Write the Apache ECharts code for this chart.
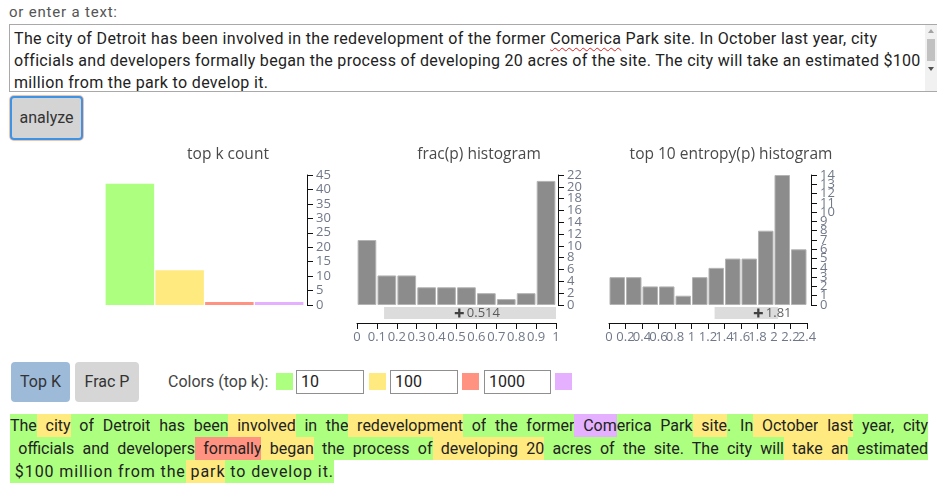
<!DOCTYPE html>
<html>
<head>
<meta charset="utf-8">
<script src="https://cdn.jsdelivr.net/npm/echarts@6/dist/echarts.min.js"></script>
<style>
  html, body { margin:0; padding:0; background:#fff; }
  body { width:937px; height:483px; position:relative; overflow:hidden; font-family: Roboto, "Open Sans", sans-serif; color:#222; }
  .abs { position:absolute; }
  #label { left:9px; top:3px; font-size:15px; color:#555; line-height:18px; white-space:nowrap; }
  #ta { left:9px; top:24px; width:940px; height:66px; border:1px solid #a9a9a9; background:#fff; }
  .taline { position:absolute; left:4px; font-size:16px; line-height:22px; white-space:nowrap; color:#222; }
  .spell { text-decoration: underline wavy #e02020; text-decoration-thickness:1px; text-underline-offset:3px; }
  #sb { right:0; top:25px; width:12px; height:66px; background:#f1f1f1; }
  #analyze { left:10px; top:96px; width:69px; height:40px; background:#d4d4d4; border:2px solid #3d94e6; border-radius:4px; box-shadow:0 0 0 1px #f3c0a8; font-size:16px; color:#333; text-align:center; line-height:40px; }
  #chart { left:0; top:140px; width:937px; height:215px; }
  .btn { top:362px; height:40px; border-radius:4px; font-size:16px; line-height:40px; text-align:center; color:#333; }
  #colorsLbl { left:168px; top:372px; font-size:16px; line-height:20px; color:#444; white-space:nowrap; }
  .sw { top:373px; width:17px; height:17px; }
  .inp { top:370px; border:1px solid #8f8f8f; background:#fff; font-size:16px; line-height:22px; padding-left:4px; box-sizing:border-box; height:24px; }
  #hl { left:10px; top:414px; width:918px; font-size:16px; }
  .hline { height:23px; line-height:23px; white-space:nowrap; }
  .just { text-align:justify; text-align-last:justify; white-space:normal; }
  .hline span { padding:2.3px 0; }
  .g { background:#ADFF80; } .y { background:#FFEA80; } .r { background:#FF9280; } .p { background:#E5B0FF; }
</style>
</head>
<body>
<div id="label" class="abs">or enter a text:</div>
<div id="ta" class="abs">
  <div class="taline" id="t1" style="top:3px">The city of Detroit has been involved in the redevelopment of the former <span class="spell">Comerica</span> Park site. In October last year, city</div>
  <div class="taline" id="t2" style="top:25px">officials and developers formally began the process of developing 20 acres of the site. The city will take an estimated $100</div>
  <div class="taline" id="t3" style="top:47px">million from the park to develop it.</div>
</div>
<div id="sb" class="abs">
  <div style="position:absolute;left:3px;top:4px;width:0;height:0;border-left:3px solid transparent;border-right:3px solid transparent;border-bottom:4px solid #a3a3a3;"></div>
  <div style="position:absolute;left:2px;top:14px;width:8px;height:22px;background:#c1c1c1;"></div>
  <div style="position:absolute;left:3px;top:42px;width:0;height:0;border-left:3px solid transparent;border-right:3px solid transparent;border-top:4px solid #505050;"></div>
</div>
<div id="analyze" class="abs">analyze</div>
<div id="chart" class="abs"></div>
<div class="abs btn" style="left:11px;width:59px;background:#9dbad9;">Top K</div>
<div class="abs btn" style="left:75px;width:64px;background:#d6d6d6;">Frac P</div>
<div id="colorsLbl" class="abs">Colors (top k):</div>
<div class="abs sw g" style="left:276px"></div>
<div class="abs inp" style="left:296px;width:68px">10</div>
<div class="abs sw y" style="left:369px"></div>
<div class="abs inp" style="left:390px;width:68px">100</div>
<div class="abs sw r" style="left:462px"></div>
<div class="abs inp" style="left:484px;width:67px">1000</div>
<div class="abs sw p" style="left:555px"></div>
<div id="hl" class="abs"></div>
<script>
// ---------- data ----------
const topkCategories = ['top 10', 'top 100', 'top 1000', 'other'];
const topkCounts = [42, 12, 1, 1];
const topkTicks = ['0','5','10','15','20','25','30','35','40','45'];
const fracBins = ['0-0.1','0.1-0.2','0.2-0.3','0.3-0.4','0.4-0.5','0.5-0.6','0.6-0.7','0.7-0.8','0.8-0.9','0.9-1'];
const fracCounts = [11, 5, 5, 3, 3, 3, 2, 1, 2, 21];
const fracYTicks = ['0','2','4','6','8','10','12','14','16','18','20','22'];
const fracXTicks = ['0','0.1','0.2','0.3','0.4','0.5','0.6','0.7','0.8','0.9','1'];
const fracRange = [0.136, 1.0];
const fracMean = 0.514;
const entropyBins = ['0-0.2','0.2-0.4','0.4-0.6','0.6-0.8','0.8-1','1-1.2','1.2-1.4','1.4-1.6','1.6-1.8','1.8-2','2-2.2','2.2-2.4'];
const entropyCounts = [3, 3, 2, 2, 1, 3, 4, 5, 5, 8, 14, 6];
const entropyYTicks = ['0','1','2','3','4','5','6','7','8','9','10','11','12','13','14'];
const entropyXTicks = ['0','0.2','0.4','0.6','0.8','1','1.2','1.4','1.6','1.8','2','2.2','2.4'];
const entropyRange = [1.28, 2.05];
const entropyMean = 1.81;
const titles = ['top k count', 'frac(p) histogram', 'top 10 entropy(p) histogram'];
const line1 = [["The","g"],[" city","y"],[" of","g"],[" Detroit","g"],[" has","g"],[" been","g"],[" involved","y"],[" in","g"],[" the","g"],[" redevelopment","y"],[" of","g"],[" the","g"],[" former","g"],[" Com","p"],["erica","g"],[" Park","g"],[" site","y"],[".","g"],[" In","g"],[" October","y"],[" last","y"],[" year","g"],[",","g"],[" city","g"]];
const line2 = [["\u00a0officials","g"],[" and","g"],[" developers","g"],[" formally","r"],[" began","y"],[" the","g"],[" process","g"],[" of","g"],[" developing","y"],[" 20","y"],[" acres","g"],[" of","g"],[" the","g"],[" site","g"],[".","g"],[" The","g"],[" city","g"],[" will","g"],[" take","y"],[" an","y"],[" estimated","g"]];
const line3 = [["\u00a0$","g"],["100","g"],[" million","g"],[" from","g"],[" the","g"],[" park","y"],[" to","g"],[" develop","g"],[" it","g"],[".","g"]];

// ---------- highlighted text ----------
const hl = document.getElementById('hl');
[[line1, true], [line2, true], [line3, false]].forEach(([toks, just]) => {
  const d = document.createElement('div');
  d.className = 'hline' + (just ? ' just' : '');
  toks.forEach(([t, c]) => { const s = document.createElement('span'); s.className = c; s.textContent = t; d.appendChild(s); });
  hl.appendChild(d);
});

function fit(el, target) {
  const w = el.getBoundingClientRect().width;
  const n = el.textContent.length;
  if (n > 1) el.style.letterSpacing = ((target - w) / (n - 1)) + 'px';
}
function fitInline(el, target) {
  el.style.display = 'inline-block';
  fit(el, target);
}
fitInline(document.getElementById('t1'), 863);
fitInline(document.getElementById('t2'), 905);
fitInline(document.getElementById('t3'), 254);
fitInline(document.getElementById('label'), 108);
const l3 = hl.children[2];
l3.style.display = 'inline-block';
fit(l3, 323);

// ---------- chart ----------
const AX = '#707888';
const FONT = '"Open Sans", sans-serif';
const chart = echarts.init(document.getElementById('chart'), null, { renderer: 'canvas' });
const hiddenCat = (grid, data) => ({ type: 'category', gridIndex: grid, data: data, show: false });
const hiddenVal = (grid, max) => ({ type: 'value', gridIndex: grid, min: 0, max: max, show: false, splitLine: { show: false } });
const line = { show: true, lineStyle: { color: '#111', width: 1 } };
const tickCatY = (grid, ticks, offset) => ({
  type: 'category', gridIndex: grid, position: 'right', offset: offset, data: ticks, boundaryGap: false,
  axisLine: line,
  axisTick: { show: true, length: 6, interval: 0, lineStyle: { color: '#111' } },
  axisLabel: { color: AX, fontSize: 13, margin: 9, interval: 0, fontFamily: FONT },
  splitLine: { show: false }
});
const tickCatX = (grid, ticks) => ({
  type: 'category', gridIndex: grid, position: 'bottom', offset: 4, data: ticks, boundaryGap: false,
  axisLine: line,
  axisTick: { show: true, length: 6, interval: 0, lineStyle: { color: '#111' } },
  axisLabel: { color: AX, fontSize: 13, margin: 8, interval: 0, fontFamily: FONT },
  splitLine: { show: false }
});
const plusPath = 'path://M3,0h2v3h3v2h-3v3h-2v-3h-3v-2h3z';
const topkColors = ['#ADFF80', '#FFEA80', '#FF9280', '#E5B0FF'];
const titleStyle = { fontSize: 15.5, fontWeight: 'normal', color: '#4a4a4a', fontFamily: FONT };
const meanLabel = v => ({ show: true, position: 'right', distance: 3, formatter: () => String(v), color: '#3a3a3a', fontSize: 13, fontWeight: 500, fontFamily: FONT });

chart.setOption({
  animation: false,
  title: [
    { text: titles[0], left: 223, top: 2, textAlign: 'center', textStyle: titleStyle },
    { text: titles[1], left: 474, top: 2, textAlign: 'center', textStyle: titleStyle },
    { text: titles[2], left: 726, top: 2, textAlign: 'center', textStyle: titleStyle }
  ],
  grid: [
    { left: 105, top: 35, width: 199, height: 130 },
    { left: 357, top: 35, width: 199, height: 130 },
    { left: 357, top: 167, width: 199, height: 12 },
    { left: 609, top: 35, width: 198, height: 130 },
    { left: 609, top: 167, width: 198, height: 12 }
  ],
  xAxis: [
    hiddenCat(0, topkCategories),   // 0
    hiddenCat(1, fracBins),         // 1
    hiddenVal(2, 1),                // 2
    tickCatX(2, fracXTicks),        // 3
    hiddenCat(3, entropyBins),      // 4
    hiddenVal(4, 2.4),              // 5
    tickCatX(4, entropyXTicks)      // 6
  ],
  yAxis: [
    hiddenVal(0, 45),               // 0
    tickCatY(0, topkTicks, 3),      // 1
    hiddenVal(1, 22),               // 2
    tickCatY(1, fracYTicks, 2),     // 3
    hiddenCat(2, ['m']),            // 4
    hiddenVal(3, 14),               // 5
    tickCatY(3, entropyYTicks, 4),  // 6
    hiddenCat(4, ['m'])             // 7
  ],
  series: [
    { type: 'bar', xAxisIndex: 0, yAxisIndex: 0, barCategoryGap: '2.5%',
      data: topkCounts.map((v, i) => ({ value: v, itemStyle: { color: topkColors[i] } })) },
    { type: 'bar', xAxisIndex: 1, yAxisIndex: 2, barCategoryGap: '6%', data: fracCounts,
      itemStyle: { color: '#8c8c8c', borderColor: '#b4b4b4', borderWidth: 1 } },
    { type: 'bar', xAxisIndex: 2, yAxisIndex: 4, stack: 'f', barWidth: 12, data: [fracRange[0]], itemStyle: { color: 'transparent' } },
    { type: 'bar', xAxisIndex: 2, yAxisIndex: 4, stack: 'f', barWidth: 12, data: [fracRange[1] - fracRange[0]], itemStyle: { color: '#dcdcdc' } },
    { type: 'scatter', xAxisIndex: 2, yAxisIndex: 4, data: [[fracMean, 'm']], symbol: plusPath, symbolSize: 9,
      itemStyle: { color: '#1a1a1a' }, label: meanLabel(fracMean) },
    { type: 'bar', xAxisIndex: 4, yAxisIndex: 5, barCategoryGap: '6%', data: entropyCounts,
      itemStyle: { color: '#8c8c8c', borderColor: '#b4b4b4', borderWidth: 1 } },
    { type: 'bar', xAxisIndex: 5, yAxisIndex: 7, stack: 'e', barWidth: 12, data: [entropyRange[0]], itemStyle: { color: 'transparent' } },
    { type: 'bar', xAxisIndex: 5, yAxisIndex: 7, stack: 'e', barWidth: 12, data: [entropyRange[1] - entropyRange[0]], itemStyle: { color: '#dcdcdc' } },
    { type: 'scatter', xAxisIndex: 5, yAxisIndex: 7, data: [[entropyMean, 'm']], symbol: plusPath, symbolSize: 9,
      itemStyle: { color: '#1a1a1a' }, label: meanLabel(entropyMean) }
  ]
});
</script>
</body>
</html>
